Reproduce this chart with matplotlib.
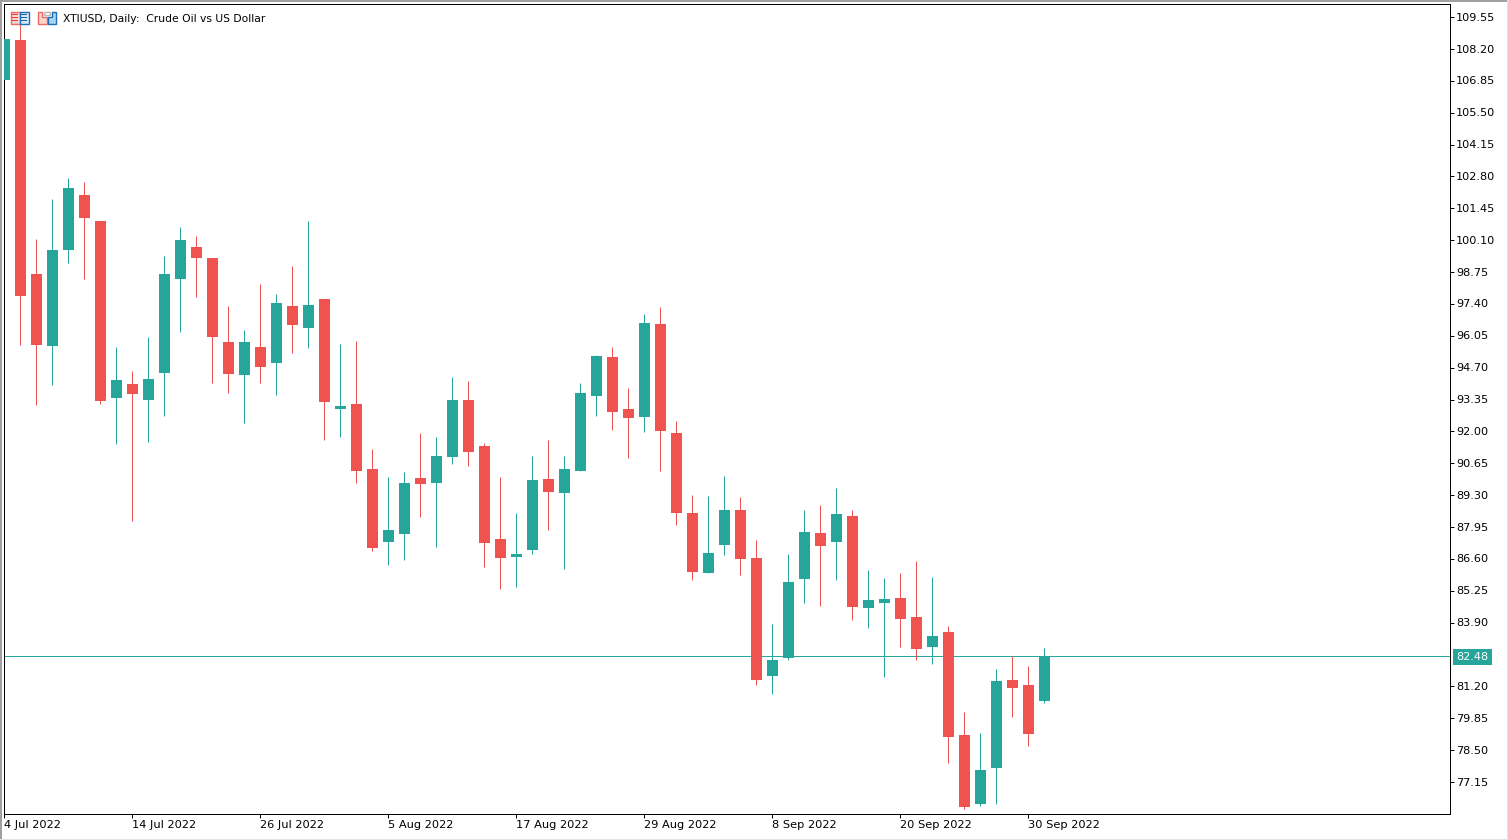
"""XTIUSD daily candles in the MT5 terminal look."""
import matplotlib
matplotlib.use("Agg")
import matplotlib.pyplot as plt
from matplotlib.patches import Rectangle, Polygon

W, H = 1508, 840
BULL = "#26A69A"
BEAR = "#EF5350"
FONT = "DejaVu Sans"

title = "XTIUSD, Daily:  Crude Oil vs US Dollar"
last_price = 82.48

opens = [106.90, 108.59, 98.68, 95.63, 99.69, 102.03, 100.92, 93.43, 94.02, 93.34, 94.49,
         98.47, 99.82, 99.36, 95.80, 94.40, 95.59, 94.91, 97.32, 96.39, 97.62, 92.96,
         93.17, 90.42, 87.33, 87.67, 90.04, 89.83, 90.93, 93.34, 91.40, 87.44, 86.69,
         86.99, 89.99, 89.40, 90.33, 93.51, 95.16, 92.96, 92.62, 96.56, 91.94, 88.56,
         86.01, 87.20, 88.68, 86.65, 81.65, 82.41, 85.76, 87.71, 87.33, 88.43, 84.53,
         84.74, 84.96, 84.15, 82.88, 83.51, 79.15, 76.23, 77.76, 81.48, 81.27, 80.59]
closes = [108.63, 97.75, 95.67, 99.69, 102.32, 101.05, 93.30, 94.19, 93.60, 94.23, 98.68,
          100.12, 99.36, 96.01, 94.44, 95.80, 94.74, 97.45, 96.52, 97.37, 93.26, 93.09,
          90.33, 87.07, 87.84, 89.83, 89.79, 90.97, 93.34, 91.14, 87.29, 86.65, 86.82,
          89.95, 89.45, 90.42, 93.64, 95.21, 92.83, 92.58, 96.60, 92.03, 88.56, 86.06,
          86.86, 88.68, 86.61, 81.48, 82.33, 85.63, 87.75, 87.16, 88.51, 84.57, 84.87,
          84.91, 84.07, 82.79, 83.34, 79.07, 76.10, 77.67, 81.44, 81.14, 79.20, 82.48]
highs = [109.01, 109.44, 100.16, 101.86, 102.74, 102.58, 100.92, 95.59, 94.57, 96.01, 99.44,
         100.67, 100.29, 99.36, 97.32, 96.31, 98.25, 97.83, 99.02, 100.92, 97.62, 95.71,
         95.84, 91.27, 90.08, 90.29, 91.94, 91.77, 94.32, 94.15, 91.52, 90.08, 88.56,
         90.97, 91.65, 90.97, 94.06, 95.25, 95.59, 93.85, 96.98, 97.28, 92.45, 89.32,
         89.28, 90.12, 89.23, 87.41, 83.85, 86.79, 88.68, 88.89, 89.61, 88.68, 86.14,
         85.80, 86.01, 86.52, 85.84, 83.77, 80.13, 79.24, 81.95, 82.50, 82.08, 82.84]
lows = [106.68, 95.67, 93.13, 93.98, 99.14, 98.47, 93.17, 91.48, 88.22, 91.56, 92.66,
        96.22, 97.70, 94.06, 93.64, 92.37, 94.06, 93.55, 95.33, 95.54, 91.65, 91.77,
        89.83, 86.95, 86.35, 86.57, 88.39, 87.12, 90.63, 90.55, 86.27, 85.34, 85.42,
        86.82, 87.84, 86.18, 90.33, 92.66, 92.07, 90.88, 91.99, 90.33, 88.05, 85.72,
        86.01, 86.78, 85.93, 81.27, 80.89, 82.33, 84.74, 84.62, 85.72, 84.02, 83.68,
        81.61, 82.88, 82.33, 82.16, 77.97, 76.02, 76.14, 76.23, 79.92, 78.69, 80.51]

date_ticks = [0, 8, 16, 24, 32, 40, 48, 56, 64]
date_labels = ["4 Jul 2022", "14 Jul 2022", "26 Jul 2022", "5 Aug 2022", "17 Aug 2022",
               "29 Aug 2022", "8 Sep 2022", "20 Sep 2022", "30 Sep 2022"]
price_labels = ["109.55", "108.20", "106.85", "105.50", "104.15", "102.80", "101.45", "100.10",
                "98.75", "97.40", "96.05", "94.70", "93.35", "92.00", "90.65", "89.30", "87.95",
                "86.60", "85.25", "83.90", "81.20", "79.85", "78.50", "77.15"]


def fx(px):
    return px / W


def fy(px):
    return 1 - px / H


def rect(x, y, w, h, **kw):
    # figure level box given in screen pixels, y going down
    fig.add_artist(Rectangle((fx(x), fy(y + h)), w / W, h / H, transform=fig.transFigure, **kw))


def poly(pts, **kw):
    fig.add_artist(Polygon([(fx(x), fy(y)) for x, y in pts], closed=True, transform=fig.transFigure, **kw))


def price_at(y):
    # price scale, 23.61 px per dollar
    return 110.284 - 0.042355 * (y + 0.2)


fig = plt.figure(figsize=(W / 100, H / 100), dpi=100, facecolor="white")

# plot box: small offsets so agg snaps the 1 px lines on the same pixels as the terminal
left, right, top, bottom = 4.3, 1450.3, 4.3, 814.3
ax = fig.add_axes([fx(left), fy(bottom), (right - left) / W, (bottom - top) / H])
ax.set_xlim(0, (right - left) / 16)
ax.set_ylim(price_at(bottom), price_at(top))

# last price line goes behind the candles
ax.axhline(last_price, color=BULL, lw=0.72, zorder=1)

colors = [BULL if c >= o else BEAR for o, c in zip(opens, closes)]
xs = list(range(len(opens)))
ax.vlines(xs, lows, highs, colors=colors, lw=0.72, zorder=2, snap=True)
ax.bar(xs, [abs(c - o) for o, c in zip(opens, closes)], bottom=[min(o, c) for o, c in zip(opens, closes)],
       width=11 / 16, color=colors, lw=0, zorder=3)

ax.spines[:].set_linewidth(0.72)
ax.set_xticks(date_ticks, labels=[""] * len(date_ticks))
ax.tick_params(axis="x", length=3, width=0.72)
ax.yaxis.tick_right()
ax.set_yticks([float(p) for p in price_labels], labels=[""] * len(price_labels))
ax.tick_params(axis="y", length=3, width=0.72)

# labels are left aligned at the tick, like the terminal does
for i, lab in zip(date_ticks, date_labels):
    ax.annotate(lab, (i, 0), xycoords=("data", "axes fraction"), xytext=(0, -11), textcoords="offset pixels",
                ha="left", va="center", fontsize=8.2, family=FONT, color="black")
for lab in price_labels:
    ax.annotate(lab, (1, float(lab)), xycoords=("axes fraction", "data"), xytext=(5.5, -0.5), textcoords="offset pixels",
                ha="left", va="center", fontsize=8.1, family=FONT, color="black")

# price badge
ax.annotate(f"{last_price:.2f}", (1, last_price), xycoords=("axes fraction", "data"), xytext=(6, -0.5),
            textcoords="offset pixels", ha="left", va="center", fontsize=8.1, family=FONT, color="white",
            bbox=dict(boxstyle="square,pad=0.28", fc=BULL, ec="none"))

fig.text(fx(63), fy(19), title, ha="left", va="center", fontsize=7.75, family=FONT, color="black")

# toolbar icons in the corner
rect(10.5, 11.5, 9, 12, fc="#fbd5cf", ec="#ee6a60", lw=1.0)
rect(19.5, 11.5, 9, 12, fc="#d5e9f8", ec="#1f6fb5", lw=1.0)
for y in (14, 17, 20):
    rect(12, y, 6, 1, fc="#e8403a", ec="none")
    rect(21, y, 6, 1, fc="#1f5f9f", ec="none")
poly([(37.5, 11.5), (41.5, 11.5), (41.5, 16.5), (46.5, 16.5), (46.5, 23.5), (37.5, 23.5)],
     fc="#fbd5cf", ec="#ee6a60", lw=1.0)
poly([(47.5, 16.5), (51.5, 16.5), (51.5, 11.5), (55.5, 11.5), (55.5, 23.5), (47.5, 23.5)],
     fc="#a9d5f5", ec="#1f6fb5", lw=1.0)
rect(43.5, 11.5, 6, 3, fc="white", ec="#b8b8b8", lw=1.0)

# window frame
rect(0, 0, W, 1.5, fc="#a0a0a0", ec="none")
rect(0, 0, 1.5, H, fc="#a0a0a0", ec="none")
rect(0, H - 1.5, W, 1.5, fc="#e2e2e2", ec="none")
rect(W - 1.5, 0, 1.5, H, fc="#e2e2e2", ec="none")

fig.savefig("out.png", dpi=100)
